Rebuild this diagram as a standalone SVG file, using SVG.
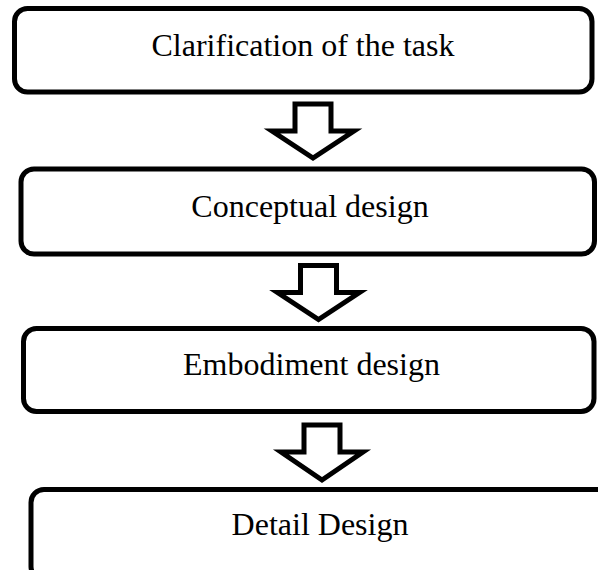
<svg xmlns="http://www.w3.org/2000/svg" width="598" height="570" viewBox="0 0 598 570">
  <style>
    .box { fill: #ffffff; stroke: #000000; stroke-width: 5; }
    .arrow { fill: #ffffff; stroke: #000000; stroke-width: 5; stroke-linejoin: miter; }
    .label { font-family: "Liberation Serif", "Times New Roman", serif; font-size: 32px; fill: #000000; text-anchor: middle; }
  </style>
  <rect x="0" y="0" width="598" height="570" fill="#ffffff"/>
  <g id="connectors">
    <path class="arrow" d="M295,104 H331 V131 H354 L313,158 L272,131 H295 Z"/>
    <path class="arrow" d="M300.5,265.5 H336.5 V292.5 H359.5 L318.5,319.5 L277.5,292.5 H300.5 Z"/>
    <path class="arrow" d="M304,425 H340 V452 H363 L322,480 L281,452 H304 Z"/>
  </g>
  <g id="node-clarification">
    <rect class="box" x="14.5" y="8.5" width="577.5" height="83.5" rx="13"/>
    <text class="label" x="303" y="56">Clarification of the task</text>
  </g>
  <g id="node-conceptual">
    <rect class="box" x="21" y="169" width="573.5" height="85" rx="13"/>
    <text class="label" x="310" y="217">Conceptual design</text>
  </g>
  <g id="node-embodiment">
    <rect class="box" x="23.5" y="328.5" width="570.5" height="83" rx="13"/>
    <text class="label" x="311.5" y="375">Embodiment design</text>
  </g>
  <g id="node-detail">
    <rect class="box" x="31" y="489.5" width="600" height="90" rx="13"/>
    <text class="label" x="320" y="535">Detail Design</text>
  </g>
</svg>
